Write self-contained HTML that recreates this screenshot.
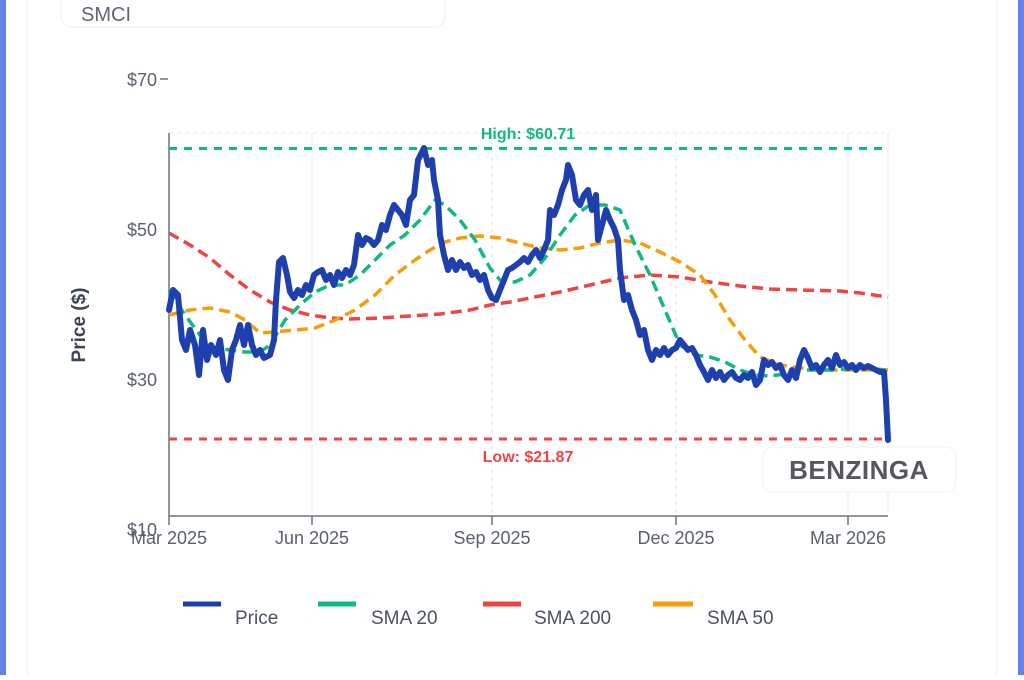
<!DOCTYPE html>
<html><head><style>
body{margin:0;width:1024px;height:675px;background:#fff;overflow:hidden;font-family:"Liberation Sans",sans-serif;}
</style></head><body>
<svg width="1024" height="675" xmlns="http://www.w3.org/2000/svg" font-family="Liberation Sans, sans-serif">
<rect x="0" y="0" width="1024" height="675" fill="#fff"/>
<rect x="0" y="0" width="6" height="675" fill="#6b7fe8"/>
<rect x="1018" y="0" width="6" height="675" fill="#6b7fe8"/>
<rect x="27" y="-10" width="970" height="700" fill="#fff" stroke="#ececef"/>
<rect x="61" y="-20" width="384" height="47" rx="10" fill="#fff" stroke="#eeeef0"/>
<text x="81" y="21" font-size="20" fill="#5f6672">SMCI</text>
<g stroke="#e6e6e6" stroke-dasharray="4,4">
<line x1="312" y1="133" x2="312" y2="516"/><line x1="492" y1="133" x2="492" y2="516"/>
<line x1="676" y1="133" x2="676" y2="516"/><line x1="848" y1="133" x2="848" y2="516"/>
<line x1="888" y1="133" x2="888" y2="516"/><line x1="169" y1="133" x2="888" y2="133"/>
</g>
<line x1="169" y1="133" x2="169" y2="516" stroke="#6b7280" stroke-width="1.5"/>
<line x1="169" y1="516" x2="888" y2="516" stroke="#6b7280" stroke-width="1.5"/>
<g stroke="#6b7280" stroke-width="1.5">
<line x1="160" y1="79" x2="168" y2="79"/>
<line x1="169" y1="516" x2="169" y2="525"/><line x1="312" y1="516" x2="312" y2="525"/>
<line x1="492" y1="516" x2="492" y2="525"/><line x1="676" y1="516" x2="676" y2="525"/>
<line x1="848" y1="516" x2="848" y2="525"/>
</g>
<g font-size="18" fill="#5a616d" text-anchor="end">
<text x="157" y="86">$70</text><text x="157" y="236">$50</text><text x="157" y="386">$30</text><text x="157" y="536">$10</text>
</g>
<g font-size="18" fill="#5a616d" text-anchor="middle">
<text x="169" y="544">Mar 2025</text><text x="312" y="544">Jun 2025</text><text x="492" y="544">Sep 2025</text><text x="676" y="544">Dec 2025</text><text x="848" y="544">Mar 2026</text>
</g>
<text transform="translate(85,325) rotate(-90)" font-size="19" font-weight="bold" fill="#3d4452" text-anchor="middle">Price ($)</text>
<line x1="169" y1="148.5" x2="888" y2="148.5" stroke="#10b981" stroke-width="3" stroke-dasharray="8,7"/>
<line x1="169" y1="439" x2="888" y2="439" stroke="#ef4444" stroke-width="3" stroke-dasharray="8,7"/>
<text x="528" y="139" font-size="16" font-weight="bold" fill="#10b981" text-anchor="middle">High: $60.71</text>
<text x="528" y="462" font-size="16" font-weight="bold" fill="#ef4444" text-anchor="middle">Low: $21.87</text>
<g fill="none" stroke-width="3.5" stroke-dasharray="11,6" stroke-linejoin="round">
<polyline stroke="#ef4444" points="169,233 190,245 210,258 230,275 250,290 270,302 290,310 310,315 330,318 350,319 380,318 410,316 440,314 470,310 490,305 510,302 530,298 560,292 590,285 620,278 650,275 680,277 710,282 740,286 770,289 800,290 840,291 860,293 888,297"/>
<polyline stroke="#f59e0b" points="169,315 190,310 210,308 230,312 245,320 260,333 275,332 295,330 315,328 335,320 355,310 375,295 395,275 415,260 430,250 445,242 460,238 480,236 500,238 520,243 540,248 560,250 580,248 600,243 620,240 640,243 660,252 680,262 700,275 715,295 730,320 745,340 760,357 780,365 800,368 830,370 860,370 888,370"/>
<polyline stroke="#10b981" points="169,290 185,315 200,335 215,348 230,350 245,352 260,352 270,345 285,320 300,305 315,292 330,285 345,285 360,275 375,260 390,245 405,235 420,220 435,200 445,205 460,220 475,240 490,268 500,280 515,282 530,275 545,258 560,235 575,215 590,205 605,205 620,210 635,245 650,275 665,310 680,345 695,355 710,357 725,362 740,370 755,375 770,376 785,374 800,370 830,370 860,368 888,370"/>
</g>
<polyline fill="none" stroke="#1e40af" stroke-width="6" stroke-linejoin="round" stroke-linecap="round" points="169,310 173,290 178,295 182,340 186,350 190,330 195,345 199,375 203,330 207,360 211,345 216,355 220,340 224,370 228,380 232,350 236,340 240,325 244,345 248,325 252,345 256,355 260,350 264,358 270,355 274,340 276,300 279,262 283,258 287,275 290,292 294,298 298,290 302,295 306,285 310,290 314,275 318,272 322,270 326,280 330,275 334,285 338,272 342,278 346,270 350,275 354,265 358,235 362,245 366,238 370,240 374,245 378,240 382,225 386,230 390,215 394,205 398,210 402,215 406,225 410,200 414,195 418,160 422,152 424,148 428,165 432,160 434,180 438,200 440,235 444,255 448,270 452,260 456,270 460,262 464,268 468,265 472,275 476,272 480,280 484,275 488,290 492,298 496,300 500,290 504,280 508,270 512,268 516,265 520,262 524,258 528,262 532,255 536,250 540,258 544,250 548,240 550,210 554,215 558,205 562,190 566,180 568,165 572,175 576,200 580,205 584,195 588,190 592,210 596,195 598,240 602,225 606,210 610,220 614,228 618,240 620,270 624,300 628,295 632,310 636,320 640,335 644,330 648,350 652,360 656,350 660,355 664,348 668,355 672,350 676,348 680,340 684,345 688,350 692,348 696,355 700,365 704,372 708,380 712,370 716,378 720,372 724,380 728,375 732,372 736,378 740,380 744,375 748,378 752,372 756,385 760,380 764,360 768,365 772,362 776,368 780,365 784,375 788,380 792,370 796,378 800,360 804,350 808,358 812,368 816,365 820,372 824,365 828,360 832,368 836,355 840,365 844,362 848,368 852,365 856,370 860,365 864,368 868,366 872,368 876,370 880,372 884,372 886,400 888,440"/>
<rect x="763" y="447" width="193" height="45" rx="10" fill="#fff" stroke="#f0f0f2"/>
<text x="859" y="479" font-size="26" font-weight="bold" fill="#55585e" text-anchor="middle" letter-spacing="0.5">BENZINGA</text>
<g stroke-width="5">
<line x1="183" y1="604" x2="221" y2="604" stroke="#1e40af"/>
<line x1="318" y1="604" x2="356" y2="604" stroke="#10b981"/>
<line x1="483" y1="604" x2="521" y2="604" stroke="#ef4444"/>
<line x1="653" y1="604" x2="693" y2="604" stroke="#f59e0b"/>
</g>
<g font-size="19" fill="#4b5260">
<text x="235" y="624">Price</text><text x="371" y="624">SMA 20</text><text x="534" y="624">SMA 200</text><text x="707" y="624">SMA 50</text>
</g>
</svg>
</body></html>
